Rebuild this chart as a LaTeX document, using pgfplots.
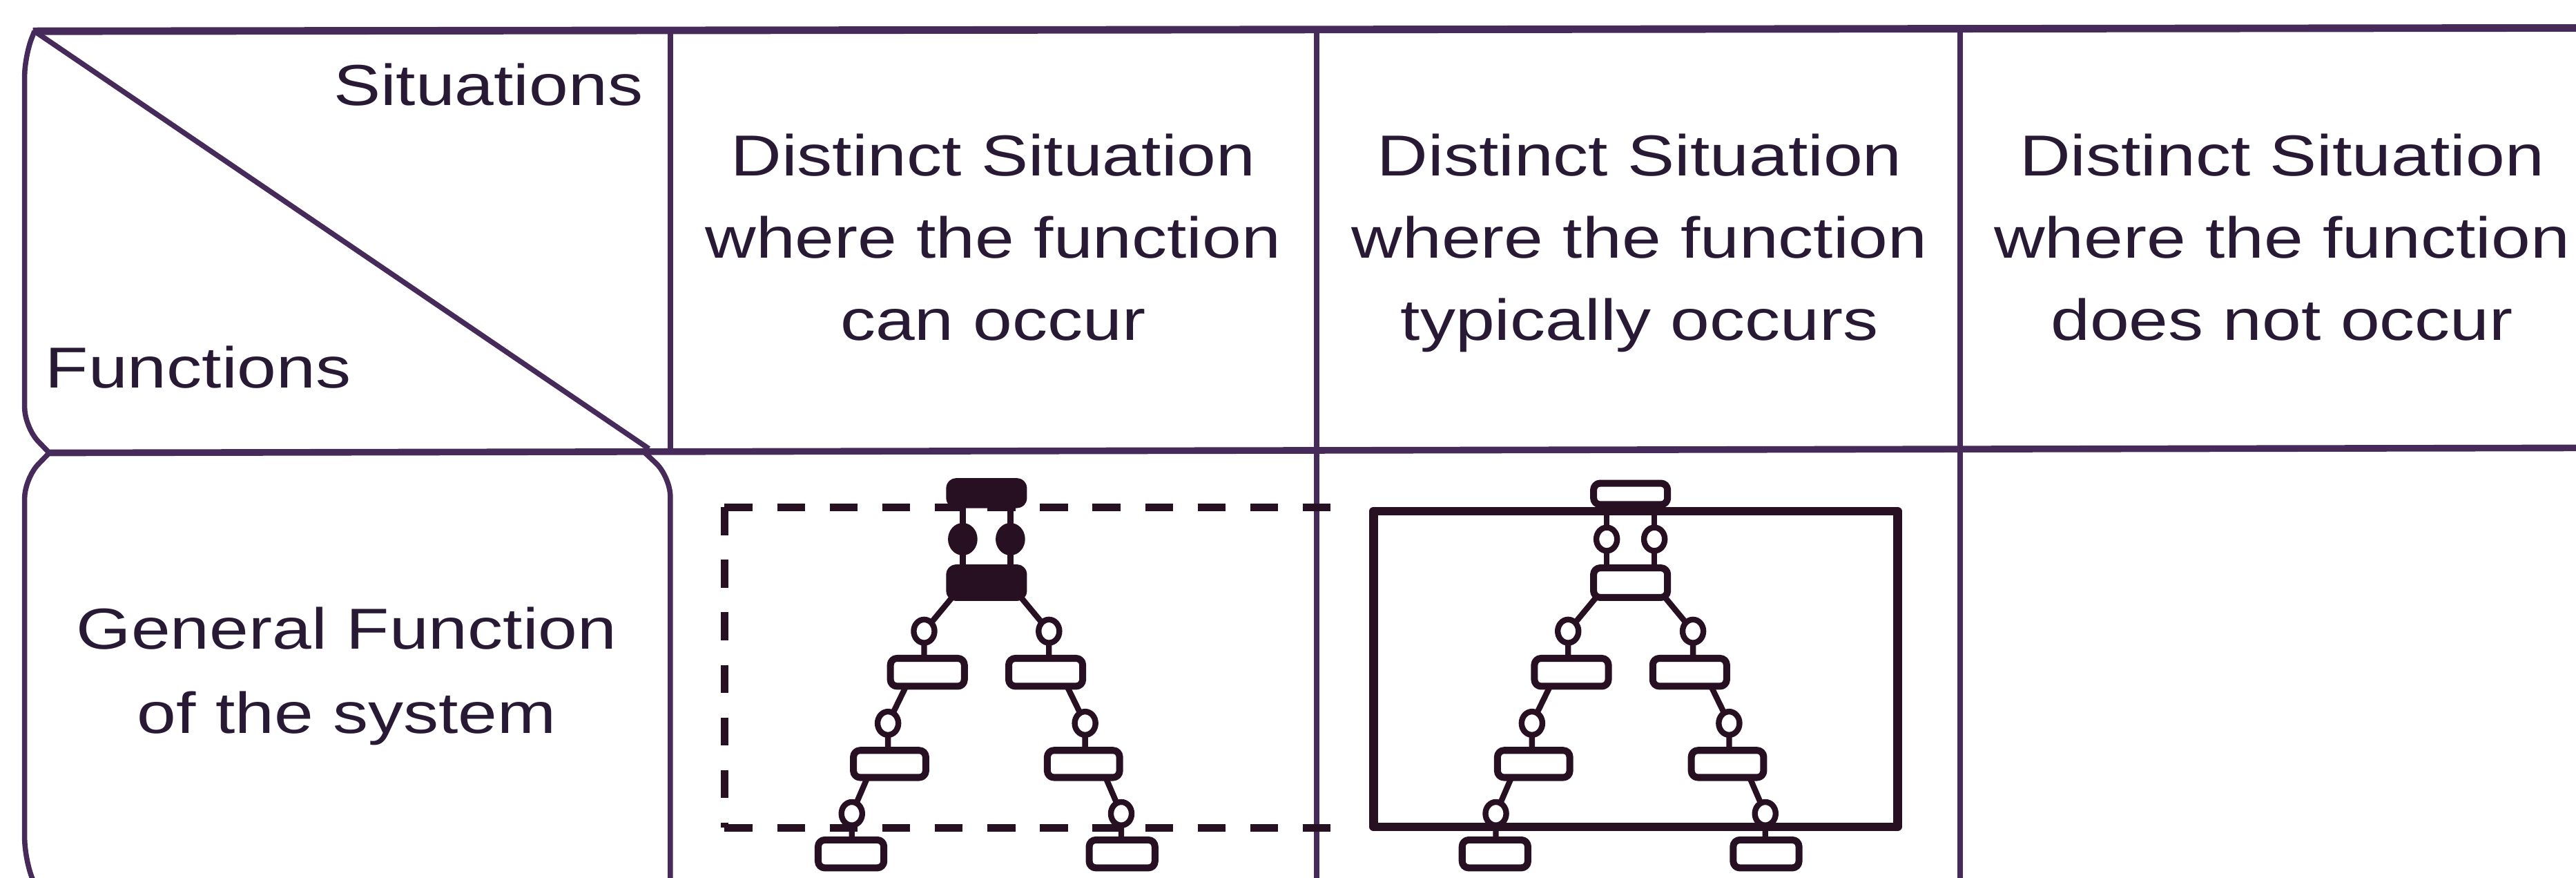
\documentclass[border=0pt]{standalone}
\usepackage{fontspec}
\setmainfont{Liberation Sans}
\usepackage{pgfplots}
\pgfplotsset{compat=1.18}
\definecolor{linecol}{RGB}{70,42,90}
\definecolor{textcol}{RGB}{40,26,52}
\definecolor{treecol}{RGB}{38,16,34}
\newcommand{\lbl}[1]{\scalebox{1.22}[1]{\fontsize{10}{12}\selectfont #1}}
\pgfplotsset{
  tab/.style={draw=linecol,line width=0.9pt},
  link/.style={draw=treecol,line width=1.0pt},
  obox/.style={draw=treecol,fill=white,line width=1.2pt,rounded corners=0.4mm},
  bbox/.style={draw=treecol,fill=treecol,line width=1.2pt,rounded corners=0.4mm},
  ocirc/.style={only marks,mark=*,mark size=1.8pt,mark options={draw=treecol,fill=white,line width=1.0pt,yscale=1.12}},
  bcirc/.style={only marks,mark=*,mark size=2.1pt,mark options={draw=treecol,fill=treecol,line width=0.9pt,yscale=1.12}},
}
\begin{document}
\begin{tikzpicture}
\begin{axis}[width=156.8mm,height=53.4mm,scale only axis,
  xmin=0,xmax=1568,ymin=0,ymax=534,y dir=reverse,hide axis,clip=true,
  every axis plot/.append style={line join=round}]
% ---------- table frame ----------
\addplot[draw=linecol,line width=1.3pt] coordinates {(20,19) (1568,17)};
\addplot[draw=linecol,line width=1.15pt] coordinates {(30,275.5) (1568,272.5)};
\addplot[tab,rounded corners=1.2mm] coordinates {(21,19) (15,34) (15,260) (30,275.5)};
\addplot[tab,rounded corners=1.2mm] coordinates {(30,275.5) (15,291) (15,522) (21,538)};
\addplot[tab] coordinates {(21,19) (395,273)};
\addplot[tab] coordinates {(408,18) (408,274)};
\addplot[tab,rounded corners=1.2mm] coordinates {(391,274) (408,290) (408,538)};
\addplot[tab] coordinates {(801.5,17) (801.5,538)};
\addplot[tab] coordinates {(1193,17) (1193,538)};
% ---------- column 1: dashed frame ----------
\addplot[draw=treecol,line width=1.3pt,dash pattern=on 1.7mm off 1.5mm] coordinates {(441,308.5) (818,308.5)};
\addplot[draw=treecol,line width=1.3pt,dash pattern=on 1.7mm off 1.5mm] coordinates {(441,308.5) (441,503.5)};
\addplot[draw=treecol,line width=1.3pt,dash pattern=on 1.7mm off 1.5mm] coordinates {(441,503.5) (818,503.5)};
% ---------- column 2: solid frame ----------
\addplot[draw=treecol,line width=1.5pt] coordinates {(836,311) (1155,311) (1155,503) (836,503)} -- cycle;
% ---------- tree 1 links ----------
\addplot[link] coordinates {(586,307) (586,345.5)};
\addplot[link] coordinates {(615,307) (615,345.5)};
\addplot[link] coordinates {(579.5,363.5) (562.5,384) (562.5,400.5)};
\addplot[link] coordinates {(621.5,363.5) (638.5,384) (638.5,400.5)};
\addplot[link] coordinates {(551.5,417.5) (540.5,440) (540.5,456.5)};
\addplot[link] coordinates {(649.5,417.5) (660.5,440) (660.5,456.5)};
\addplot[link] coordinates {(528,473) (518.5,495) (518.5,511)};
\addplot[link] coordinates {(673,473) (682.5,495) (682.5,511)};
% ---------- tree 1 boxes ----------
\addplot[bbox] coordinates {(578,293) (623,293) (623,307) (578,307)} -- cycle;
\addplot[bbox] coordinates {(578,345.5) (623,345.5) (623,363.5) (578,363.5)} -- cycle;
\addplot[obox] coordinates {(542,400.5) (587,400.5) (587,417.5) (542,417.5)} -- cycle;
\addplot[obox] coordinates {(614,400.5) (659,400.5) (659,417.5) (614,417.5)} -- cycle;
\addplot[obox] coordinates {(519.5,456.5) (563.5,456.5) (563.5,473) (519.5,473)} -- cycle;
\addplot[obox] coordinates {(637.5,456.5) (681.5,456.5) (681.5,473) (637.5,473)} -- cycle;
\addplot[obox] coordinates {(498,511) (538,511) (538,528) (498,528)} -- cycle;
\addplot[obox] coordinates {(663,511) (703,511) (703,528) (663,528)} -- cycle;
% ---------- tree 1 circles ----------
\addplot[bcirc] coordinates {(586,328) (615,328)};
\addplot[ocirc] coordinates {(562.5,384) (638.5,384) (540.5,440) (660.5,440) (518.5,495) (682.5,495)};
% ---------- tree 2 links ----------
\addplot[link] coordinates {(978,307) (978,345.5)};
\addplot[link] coordinates {(1007,307) (1007,345.5)};
\addplot[link] coordinates {(971.5,363.5) (954.5,384) (954.5,400.5)};
\addplot[link] coordinates {(1013.5,363.5) (1030.5,384) (1030.5,400.5)};
\addplot[link] coordinates {(943.5,417.5) (932.5,440) (932.5,456.5)};
\addplot[link] coordinates {(1041.5,417.5) (1052.5,440) (1052.5,456.5)};
\addplot[link] coordinates {(920,473) (910.5,495) (910.5,511)};
\addplot[link] coordinates {(1065,473) (1074.5,495) (1074.5,511)};
% ---------- tree 2 boxes ----------
\addplot[obox] coordinates {(970,294) (1015,294) (1015,307) (970,307)} -- cycle;
\addplot[obox] coordinates {(970,345.5) (1015,345.5) (1015,363.5) (970,363.5)} -- cycle;
\addplot[obox] coordinates {(934,400.5) (979,400.5) (979,417.5) (934,417.5)} -- cycle;
\addplot[obox] coordinates {(1006,400.5) (1051,400.5) (1051,417.5) (1006,417.5)} -- cycle;
\addplot[obox] coordinates {(911.5,456.5) (955.5,456.5) (955.5,473) (911.5,473)} -- cycle;
\addplot[obox] coordinates {(1029.5,456.5) (1073.5,456.5) (1073.5,473) (1029.5,473)} -- cycle;
\addplot[obox] coordinates {(890,511) (930,511) (930,528) (890,528)} -- cycle;
\addplot[obox] coordinates {(1055,511) (1095,511) (1095,528) (1055,528)} -- cycle;
% ---------- tree 2 circles ----------
\addplot[ocirc] coordinates {(978,328) (1007,328) (954.5,384) (1030.5,384) (932.5,440) (1052.5,440) (910.5,495) (1074.5,495)};
% ---------- texts ----------
\node[anchor=base east,text=textcol,inner sep=0pt] at (axis cs:392,64) {\lbl{Situations}};
\node[anchor=base west,text=textcol,inner sep=0pt] at (axis cs:27,236) {\lbl{Functions}};
\node[anchor=base,text=textcol,inner sep=0pt] at (axis cs:604.5,107) {\lbl{Distinct Situation}};
\node[anchor=base,text=textcol,inner sep=0pt] at (axis cs:604.5,157) {\lbl{where the function}};
\node[anchor=base,text=textcol,inner sep=0pt] at (axis cs:604.5,207) {\lbl{can occur}};
\node[anchor=base,text=textcol,inner sep=0pt] at (axis cs:998,107) {\lbl{Distinct Situation}};
\node[anchor=base,text=textcol,inner sep=0pt] at (axis cs:998,157) {\lbl{where the function}};
\node[anchor=base,text=textcol,inner sep=0pt] at (axis cs:998,207) {\lbl{typically occurs}};
\node[anchor=base,text=textcol,inner sep=0pt] at (axis cs:1389,107) {\lbl{Distinct Situation}};
\node[anchor=base,text=textcol,inner sep=0pt] at (axis cs:1389,157) {\lbl{where the function}};
\node[anchor=base,text=textcol,inner sep=0pt] at (axis cs:1389,207) {\lbl{does not occur}};
\node[anchor=base,text=textcol,inner sep=0pt] at (axis cs:211,395) {\lbl{General Function}};
\node[anchor=base,text=textcol,inner sep=0pt] at (axis cs:211,446) {\lbl{of the system}};
\end{axis}
\pgfresetboundingbox
\path (0,0) rectangle (156.8mm,53.4mm);
\end{tikzpicture}
\end{document}
